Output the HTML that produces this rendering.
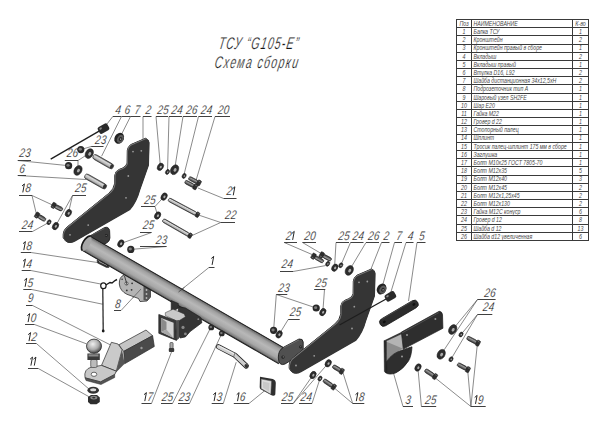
<!DOCTYPE html><html><head><meta charset="utf-8"><style>html,body{margin:0;padding:0;background:#fff;width:600px;height:424px;overflow:hidden}svg{display:block}text{font-family:"Liberation Sans",sans-serif;font-style:italic}</style></head><body>
<svg width="600" height="424" viewBox="0 0 600 424">
<defs>
<linearGradient id="beam" gradientUnits="userSpaceOnUse" x1="0" y1="0" x2="-8.5" y2="14.7">
<stop offset="0" stop-color="#3a3a3a"/><stop offset="0.08" stop-color="#7a7a7a"/><stop offset="0.4" stop-color="#b4b4b4"/><stop offset="0.75" stop-color="#8c8c8c"/><stop offset="0.95" stop-color="#4a4a4a"/><stop offset="1" stop-color="#2a2a2a"/>
</linearGradient>
<linearGradient id="pin" x1="0" y1="0" x2="0" y2="1">
<stop offset="0" stop-color="#4a4a4a"/><stop offset="0.3" stop-color="#dadada"/><stop offset="0.7" stop-color="#b4b4b4"/><stop offset="1" stop-color="#4a4a4a"/>
</linearGradient>
<linearGradient id="bolt" x1="0" y1="0" x2="0" y2="1">
<stop offset="0" stop-color="#2e2e2e"/><stop offset="0.35" stop-color="#9a9a9a"/><stop offset="0.65" stop-color="#6a6a6a"/><stop offset="1" stop-color="#2e2e2e"/>
</linearGradient>
</defs>
<g stroke="#3a3a3a" stroke-width="1" fill="none">
<rect x="456.5" y="19.5" width="132.0" height="221.0"/>
<path d="M471.5 19.5V240.5M572.5 19.5V240.5"/>
<path d="M456.5 27.5H588.5"/>
<path d="M456.5 35.5H588.5"/>
<path d="M456.5 44.5H588.5"/>
<path d="M456.5 52.5H588.5"/>
<path d="M456.5 60.5H588.5"/>
<path d="M456.5 68.5H588.5"/>
<path d="M456.5 76.5H588.5"/>
<path d="M456.5 84.5H588.5"/>
<path d="M456.5 93.5H588.5"/>
<path d="M456.5 101.5H588.5"/>
<path d="M456.5 109.5H588.5"/>
<path d="M456.5 117.5H588.5"/>
<path d="M456.5 125.5H588.5"/>
<path d="M456.5 134.5H588.5"/>
<path d="M456.5 142.5H588.5"/>
<path d="M456.5 150.5H588.5"/>
<path d="M456.5 158.5H588.5"/>
<path d="M456.5 166.5H588.5"/>
<path d="M456.5 175.5H588.5"/>
<path d="M456.5 183.5H588.5"/>
<path d="M456.5 191.5H588.5"/>
<path d="M456.5 199.5H588.5"/>
<path d="M456.5 207.5H588.5"/>
<path d="M456.5 215.5H588.5"/>
<path d="M456.5 224.5H588.5"/>
<path d="M456.5 232.5H588.5"/>
</g>
<g fill="#555">
<text transform="translate(464.0,25.885185185185183) scale(0.72,1)" font-size="7.4" fill="#484848" text-anchor="middle" font-weight="normal" >Поз</text>
<text transform="translate(473.5,25.885185185185183) scale(0.705,1)" font-size="7.4" fill="#484848" text-anchor="start" font-weight="normal" >НАИМЕНОВАНИЕ</text>
<text transform="translate(580.5,25.885185185185183) scale(0.72,1)" font-size="7.4" fill="#484848" text-anchor="middle" font-weight="normal" >К-во</text>
<text transform="translate(464.0,34.07037037037037) scale(0.72,1)" font-size="7.4" fill="#484848" text-anchor="middle" font-weight="normal" >1</text>
<text transform="translate(473.5,34.07037037037037) scale(0.705,1)" font-size="7.4" fill="#484848" text-anchor="start" font-weight="normal" >Балка ТСУ</text>
<text transform="translate(580.5,34.07037037037037) scale(0.72,1)" font-size="7.4" fill="#484848" text-anchor="middle" font-weight="normal" >1</text>
<text transform="translate(464.0,42.25555555555556) scale(0.72,1)" font-size="7.4" fill="#484848" text-anchor="middle" font-weight="normal" >2</text>
<text transform="translate(473.5,42.25555555555556) scale(0.705,1)" font-size="7.4" fill="#484848" text-anchor="start" font-weight="normal" >Кронштейн</text>
<text transform="translate(580.5,42.25555555555556) scale(0.72,1)" font-size="7.4" fill="#484848" text-anchor="middle" font-weight="normal" >2</text>
<text transform="translate(464.0,50.44074074074074) scale(0.72,1)" font-size="7.4" fill="#484848" text-anchor="middle" font-weight="normal" >3</text>
<text transform="translate(473.5,50.44074074074074) scale(0.705,1)" font-size="7.4" fill="#484848" text-anchor="start" font-weight="normal" >Кронштейн правый в сборе</text>
<text transform="translate(580.5,50.44074074074074) scale(0.72,1)" font-size="7.4" fill="#484848" text-anchor="middle" font-weight="normal" >1</text>
<text transform="translate(464.0,58.62592592592593) scale(0.72,1)" font-size="7.4" fill="#484848" text-anchor="middle" font-weight="normal" >4</text>
<text transform="translate(473.5,58.62592592592593) scale(0.705,1)" font-size="7.4" fill="#484848" text-anchor="start" font-weight="normal" >Вкладыш</text>
<text transform="translate(580.5,58.62592592592593) scale(0.72,1)" font-size="7.4" fill="#484848" text-anchor="middle" font-weight="normal" >2</text>
<text transform="translate(464.0,66.81111111111112) scale(0.72,1)" font-size="7.4" fill="#484848" text-anchor="middle" font-weight="normal" >5</text>
<text transform="translate(473.5,66.81111111111112) scale(0.705,1)" font-size="7.4" fill="#484848" text-anchor="start" font-weight="normal" >Вкладыш правый</text>
<text transform="translate(580.5,66.81111111111112) scale(0.72,1)" font-size="7.4" fill="#484848" text-anchor="middle" font-weight="normal" >1</text>
<text transform="translate(464.0,74.99629629629631) scale(0.72,1)" font-size="7.4" fill="#484848" text-anchor="middle" font-weight="normal" >6</text>
<text transform="translate(473.5,74.99629629629631) scale(0.705,1)" font-size="7.4" fill="#484848" text-anchor="start" font-weight="normal" >Втулка D16, L92</text>
<text transform="translate(580.5,74.99629629629631) scale(0.72,1)" font-size="7.4" fill="#484848" text-anchor="middle" font-weight="normal" >2</text>
<text transform="translate(464.0,83.18148148148148) scale(0.72,1)" font-size="7.4" fill="#484848" text-anchor="middle" font-weight="normal" >7</text>
<text transform="translate(473.5,83.18148148148148) scale(0.705,1)" font-size="7.4" fill="#484848" text-anchor="start" font-weight="normal" >Шайба дистанционная 34х12,5хН</text>
<text transform="translate(580.5,83.18148148148148) scale(0.72,1)" font-size="7.4" fill="#484848" text-anchor="middle" font-weight="normal" >2</text>
<text transform="translate(464.0,91.36666666666667) scale(0.72,1)" font-size="7.4" fill="#484848" text-anchor="middle" font-weight="normal" >8</text>
<text transform="translate(473.5,91.36666666666667) scale(0.705,1)" font-size="7.4" fill="#484848" text-anchor="start" font-weight="normal" >Подрозеточник тип А</text>
<text transform="translate(580.5,91.36666666666667) scale(0.72,1)" font-size="7.4" fill="#484848" text-anchor="middle" font-weight="normal" >1</text>
<text transform="translate(464.0,99.55185185185185) scale(0.72,1)" font-size="7.4" fill="#484848" text-anchor="middle" font-weight="normal" >9</text>
<text transform="translate(473.5,99.55185185185185) scale(0.705,1)" font-size="7.4" fill="#484848" text-anchor="start" font-weight="normal" >Шаровый узел SH2FE</text>
<text transform="translate(580.5,99.55185185185185) scale(0.72,1)" font-size="7.4" fill="#484848" text-anchor="middle" font-weight="normal" >1</text>
<text transform="translate(464.0,107.73703703703704) scale(0.72,1)" font-size="7.4" fill="#484848" text-anchor="middle" font-weight="normal" >10</text>
<text transform="translate(473.5,107.73703703703704) scale(0.705,1)" font-size="7.4" fill="#484848" text-anchor="start" font-weight="normal" >Шар E20</text>
<text transform="translate(580.5,107.73703703703704) scale(0.72,1)" font-size="7.4" fill="#484848" text-anchor="middle" font-weight="normal" >1</text>
<text transform="translate(464.0,115.92222222222223) scale(0.72,1)" font-size="7.4" fill="#484848" text-anchor="middle" font-weight="normal" >11</text>
<text transform="translate(473.5,115.92222222222223) scale(0.705,1)" font-size="7.4" fill="#484848" text-anchor="start" font-weight="normal" >Гайка М22</text>
<text transform="translate(580.5,115.92222222222223) scale(0.72,1)" font-size="7.4" fill="#484848" text-anchor="middle" font-weight="normal" >1</text>
<text transform="translate(464.0,124.10740740740741) scale(0.72,1)" font-size="7.4" fill="#484848" text-anchor="middle" font-weight="normal" >12</text>
<text transform="translate(473.5,124.10740740740741) scale(0.705,1)" font-size="7.4" fill="#484848" text-anchor="start" font-weight="normal" >Гровер d 22</text>
<text transform="translate(580.5,124.10740740740741) scale(0.72,1)" font-size="7.4" fill="#484848" text-anchor="middle" font-weight="normal" >1</text>
<text transform="translate(464.0,132.2925925925926) scale(0.72,1)" font-size="7.4" fill="#484848" text-anchor="middle" font-weight="normal" >13</text>
<text transform="translate(473.5,132.2925925925926) scale(0.705,1)" font-size="7.4" fill="#484848" text-anchor="start" font-weight="normal" >Стопорный палец</text>
<text transform="translate(580.5,132.2925925925926) scale(0.72,1)" font-size="7.4" fill="#484848" text-anchor="middle" font-weight="normal" >1</text>
<text transform="translate(464.0,140.47777777777776) scale(0.72,1)" font-size="7.4" fill="#484848" text-anchor="middle" font-weight="normal" >14</text>
<text transform="translate(473.5,140.47777777777776) scale(0.705,1)" font-size="7.4" fill="#484848" text-anchor="start" font-weight="normal" >Шплинт</text>
<text transform="translate(580.5,140.47777777777776) scale(0.72,1)" font-size="7.4" fill="#484848" text-anchor="middle" font-weight="normal" >1</text>
<text transform="translate(464.0,148.66296296296295) scale(0.72,1)" font-size="7.4" fill="#484848" text-anchor="middle" font-weight="normal" >15</text>
<text transform="translate(473.5,148.66296296296295) scale(0.705,1)" font-size="7.4" fill="#484848" text-anchor="start" font-weight="normal" >Тросик палец-шплинт 175 мм в сборе</text>
<text transform="translate(580.5,148.66296296296295) scale(0.72,1)" font-size="7.4" fill="#484848" text-anchor="middle" font-weight="normal" >1</text>
<text transform="translate(464.0,156.84814814814814) scale(0.72,1)" font-size="7.4" fill="#484848" text-anchor="middle" font-weight="normal" >16</text>
<text transform="translate(473.5,156.84814814814814) scale(0.705,1)" font-size="7.4" fill="#484848" text-anchor="start" font-weight="normal" >Заглушка</text>
<text transform="translate(580.5,156.84814814814814) scale(0.72,1)" font-size="7.4" fill="#484848" text-anchor="middle" font-weight="normal" >1</text>
<text transform="translate(464.0,165.03333333333333) scale(0.72,1)" font-size="7.4" fill="#484848" text-anchor="middle" font-weight="normal" >17</text>
<text transform="translate(473.5,165.03333333333333) scale(0.705,1)" font-size="7.4" fill="#484848" text-anchor="start" font-weight="normal" >Болт М10х25 ГОСТ 7805-70</text>
<text transform="translate(580.5,165.03333333333333) scale(0.72,1)" font-size="7.4" fill="#484848" text-anchor="middle" font-weight="normal" >1</text>
<text transform="translate(464.0,173.2185185185185) scale(0.72,1)" font-size="7.4" fill="#484848" text-anchor="middle" font-weight="normal" >18</text>
<text transform="translate(473.5,173.2185185185185) scale(0.705,1)" font-size="7.4" fill="#484848" text-anchor="start" font-weight="normal" >Болт М12х35</text>
<text transform="translate(580.5,173.2185185185185) scale(0.72,1)" font-size="7.4" fill="#484848" text-anchor="middle" font-weight="normal" >5</text>
<text transform="translate(464.0,181.40370370370368) scale(0.72,1)" font-size="7.4" fill="#484848" text-anchor="middle" font-weight="normal" >19</text>
<text transform="translate(473.5,181.40370370370368) scale(0.705,1)" font-size="7.4" fill="#484848" text-anchor="start" font-weight="normal" >Болт М12х40</text>
<text transform="translate(580.5,181.40370370370368) scale(0.72,1)" font-size="7.4" fill="#484848" text-anchor="middle" font-weight="normal" >3</text>
<text transform="translate(464.0,189.58888888888887) scale(0.72,1)" font-size="7.4" fill="#484848" text-anchor="middle" font-weight="normal" >20</text>
<text transform="translate(473.5,189.58888888888887) scale(0.705,1)" font-size="7.4" fill="#484848" text-anchor="start" font-weight="normal" >Болт М12х45</text>
<text transform="translate(580.5,189.58888888888887) scale(0.72,1)" font-size="7.4" fill="#484848" text-anchor="middle" font-weight="normal" >2</text>
<text transform="translate(464.0,197.77407407407406) scale(0.72,1)" font-size="7.4" fill="#484848" text-anchor="middle" font-weight="normal" >21</text>
<text transform="translate(473.5,197.77407407407406) scale(0.705,1)" font-size="7.4" fill="#484848" text-anchor="start" font-weight="normal" >Болт М12х1,25х45</text>
<text transform="translate(580.5,197.77407407407406) scale(0.72,1)" font-size="7.4" fill="#484848" text-anchor="middle" font-weight="normal" >2</text>
<text transform="translate(464.0,205.95925925925926) scale(0.72,1)" font-size="7.4" fill="#484848" text-anchor="middle" font-weight="normal" >22</text>
<text transform="translate(473.5,205.95925925925926) scale(0.705,1)" font-size="7.4" fill="#484848" text-anchor="start" font-weight="normal" >Болт М12х130</text>
<text transform="translate(580.5,205.95925925925926) scale(0.72,1)" font-size="7.4" fill="#484848" text-anchor="middle" font-weight="normal" >2</text>
<text transform="translate(464.0,214.14444444444445) scale(0.72,1)" font-size="7.4" fill="#484848" text-anchor="middle" font-weight="normal" >23</text>
<text transform="translate(473.5,214.14444444444445) scale(0.705,1)" font-size="7.4" fill="#484848" text-anchor="start" font-weight="normal" >Гайка М12С конуср</text>
<text transform="translate(580.5,214.14444444444445) scale(0.72,1)" font-size="7.4" fill="#484848" text-anchor="middle" font-weight="normal" >6</text>
<text transform="translate(464.0,222.3296296296296) scale(0.72,1)" font-size="7.4" fill="#484848" text-anchor="middle" font-weight="normal" >24</text>
<text transform="translate(473.5,222.3296296296296) scale(0.705,1)" font-size="7.4" fill="#484848" text-anchor="start" font-weight="normal" >Гровер d 12</text>
<text transform="translate(580.5,222.3296296296296) scale(0.72,1)" font-size="7.4" fill="#484848" text-anchor="middle" font-weight="normal" >8</text>
<text transform="translate(464.0,230.5148148148148) scale(0.72,1)" font-size="7.4" fill="#484848" text-anchor="middle" font-weight="normal" >25</text>
<text transform="translate(473.5,230.5148148148148) scale(0.705,1)" font-size="7.4" fill="#484848" text-anchor="start" font-weight="normal" >Шайба d 12</text>
<text transform="translate(580.5,230.5148148148148) scale(0.72,1)" font-size="7.4" fill="#484848" text-anchor="middle" font-weight="normal" >13</text>
<text transform="translate(464.0,238.7) scale(0.72,1)" font-size="7.4" fill="#484848" text-anchor="middle" font-weight="normal" >26</text>
<text transform="translate(473.5,238.7) scale(0.705,1)" font-size="7.4" fill="#484848" text-anchor="start" font-weight="normal" >Шайба d12 увеличенная</text>
<text transform="translate(580.5,238.7) scale(0.72,1)" font-size="7.4" fill="#484848" text-anchor="middle" font-weight="normal" >6</text>
</g>
<text transform="translate(218,48.5) skewX(-10) scale(0.62,1)" font-size="17" fill="#151515" stroke="#fff" stroke-width="0.25" letter-spacing="1.9">ТСУ “G105-E”</text>
<text transform="translate(214,68.3) skewX(-10) scale(0.62,1)" font-size="17" fill="#151515" stroke="#fff" stroke-width="0.25" letter-spacing="2.2">Схема сборки</text>
<defs><g id="brk"><path d="M145.5 138.3 Q148.8 139.3 148.8 142.5 L148.3 164.5 L139.5 189.5 Q136.3 201.5 129.5 209.3 L74.5 240.8 Q66.5 245 63.2 237.5 Q62.5 230 68 226.3 L108.5 193.6 Q114 189.2 114.8 183.2 L114.8 175.3 Q115.2 171 119.5 169.3 Q125.5 167.5 127.1 163.2 L127.3 150.5 Q127.8 146.3 131 144.5 Z" fill="#2a2a2a" stroke="#1c1c1c" stroke-width="1"/><path d="M145.5 138.3 Q148.8 139.3 148.8 142.5 L148.3 164.5 L139.5 189.5 Q136.3 201.5 129.5 209.3 L74.5 240.8 Q66.5 245 63.2 237.5 Q62.5 230 68 226.3 L108.5 193.6 Q114 189.2 114.8 183.2 L114.8 175.3 Q115.2 171 119.5 169.3 Q125.5 167.5 127.1 163.2 L127.3 150.5 Q127.8 146.3 131 144.5 Z" fill="#7a7a7a"/><path d="M145.5 138.3 Q148.8 139.3 148.8 142.5 L148.3 164.5 L139.5 189.5 Q136.3 201.5 129.5 209.3 L74.5 240.8 Q66.5 245 63.2 237.5 Q62.5 230 68 226.3 L108.5 193.6 Q114 189.2 114.8 183.2 L114.8 175.3 Q115.2 171 119.5 169.3 Q125.5 167.5 127.1 163.2 L127.3 150.5 Q127.8 146.3 131 144.5 Z" transform="translate(0.7,0.75)" fill="#353535"/><g fill="#9a9a9a"><circle cx="133" cy="151.6" r="0.9"/><circle cx="141.3" cy="150.8" r="0.9"/><circle cx="128.3" cy="176" r="0.9"/><circle cx="126" cy="197.8" r="0.9"/><circle cx="88.2" cy="225.1" r="0.9"/><circle cx="70" cy="234.8" r="0.9"/></g></g></defs>
<text transform="translate(115.00,113.8) skewX(-7) scale(0.8,1)" font-size="12.4" fill="#1a1a1a" stroke="#fff" stroke-width="0.18">4</text>
<path d="M112.8 116.5 L121.0 116.5" stroke="#2a2a2a" stroke-width="0.9" fill="none"/>
<path d="M112.8 116.5 L103.5 128.5" stroke="#3c3c3c" stroke-width="0.6" fill="none"/>
<text transform="translate(124.30,113.8) skewX(-7) scale(0.8,1)" font-size="12.4" fill="#1a1a1a" stroke="#fff" stroke-width="0.18">6</text>
<path d="M121.5 116.5 L130.5 116.5" stroke="#2a2a2a" stroke-width="0.9" fill="none"/>
<path d="M121.5 116.5 L101.6 156.2" stroke="#3c3c3c" stroke-width="0.6" fill="none"/>
<text transform="translate(134.30,113.8) skewX(-7) scale(0.8,1)" font-size="12.4" fill="#1a1a1a" stroke="#fff" stroke-width="0.18">7</text>
<path d="M130.5 116.5 L140.5 116.5" stroke="#2a2a2a" stroke-width="0.9" fill="none"/>
<path d="M130.5 116.5 L119.5 138.3" stroke="#3c3c3c" stroke-width="0.6" fill="none"/>
<text transform="translate(145.30,113.8) skewX(-7) scale(0.8,1)" font-size="12.4" fill="#1a1a1a" stroke="#fff" stroke-width="0.18">2</text>
<path d="M143.0 116.5 L151.5 116.5" stroke="#2a2a2a" stroke-width="0.9" fill="none"/>
<path d="M143.0 116.5 L143.0 139.0" stroke="#3c3c3c" stroke-width="0.6" fill="none"/>
<text transform="translate(157.00,113.8) skewX(-7) scale(0.8,1)" font-size="12.4" fill="#1a1a1a" stroke="#fff" stroke-width="0.18">2</text>
<text transform="translate(162.75,113.8) skewX(-7) scale(0.8,1)" font-size="12.4" fill="#1a1a1a" stroke="#fff" stroke-width="0.18">5</text>
<path d="M156.0 116.5 L168.0 116.5" stroke="#2a2a2a" stroke-width="0.9" fill="none"/>
<path d="M156.0 116.5 L160.4 166.5" stroke="#3c3c3c" stroke-width="0.6" fill="none"/>
<text transform="translate(171.00,113.8) skewX(-7) scale(0.8,1)" font-size="12.4" fill="#1a1a1a" stroke="#fff" stroke-width="0.18">2</text>
<text transform="translate(176.75,113.8) skewX(-7) scale(0.8,1)" font-size="12.4" fill="#1a1a1a" stroke="#fff" stroke-width="0.18">4</text>
<path d="M169.0 116.5 L182.0 116.5" stroke="#2a2a2a" stroke-width="0.9" fill="none"/>
<path d="M169.0 116.5 L167.5 171.5" stroke="#3c3c3c" stroke-width="0.6" fill="none"/>
<text transform="translate(185.70,113.8) skewX(-7) scale(0.8,1)" font-size="12.4" fill="#1a1a1a" stroke="#fff" stroke-width="0.18">2</text>
<text transform="translate(191.45,113.8) skewX(-7) scale(0.8,1)" font-size="12.4" fill="#1a1a1a" stroke="#fff" stroke-width="0.18">6</text>
<path d="M183.0 116.5 L197.0 116.5" stroke="#2a2a2a" stroke-width="0.9" fill="none"/>
<path d="M183.0 116.5 L174.6 169.5" stroke="#3c3c3c" stroke-width="0.6" fill="none"/>
<text transform="translate(200.60,113.8) skewX(-7) scale(0.8,1)" font-size="12.4" fill="#1a1a1a" stroke="#fff" stroke-width="0.18">2</text>
<text transform="translate(206.35,113.8) skewX(-7) scale(0.8,1)" font-size="12.4" fill="#1a1a1a" stroke="#fff" stroke-width="0.18">4</text>
<path d="M198.5 116.5 L212.0 116.5" stroke="#2a2a2a" stroke-width="0.9" fill="none"/>
<path d="M198.5 116.5 L183.9 175.0" stroke="#3c3c3c" stroke-width="0.6" fill="none"/>
<text transform="translate(217.60,113.8) skewX(-7) scale(0.8,1)" font-size="12.4" fill="#1a1a1a" stroke="#fff" stroke-width="0.18">2</text>
<text transform="translate(223.35,113.8) skewX(-7) scale(0.8,1)" font-size="12.4" fill="#1a1a1a" stroke="#fff" stroke-width="0.18">0</text>
<path d="M215.0 116.5 L230.0 116.5" stroke="#2a2a2a" stroke-width="0.9" fill="none"/>
<path d="M215.0 116.5 L196.0 180.5" stroke="#3c3c3c" stroke-width="0.6" fill="none"/>
<text transform="translate(19.00,157.3) skewX(-7) scale(0.8,1)" font-size="12.4" fill="#1a1a1a" stroke="#fff" stroke-width="0.18">2</text>
<text transform="translate(24.75,157.3) skewX(-7) scale(0.8,1)" font-size="12.4" fill="#1a1a1a" stroke="#fff" stroke-width="0.18">3</text>
<path d="M17.8 160.5 L31.0 160.5" stroke="#2a2a2a" stroke-width="0.9" fill="none"/>
<path d="M17.8 160.5 L68.6 165.7" stroke="#3c3c3c" stroke-width="0.6" fill="none"/>
<text transform="translate(66.50,157.3) skewX(-7) scale(0.8,1)" font-size="12.4" fill="#1a1a1a" stroke="#fff" stroke-width="0.18">2</text>
<text transform="translate(72.25,157.3) skewX(-7) scale(0.8,1)" font-size="12.4" fill="#1a1a1a" stroke="#fff" stroke-width="0.18">6</text>
<path d="M64.8 160.5 L78.0 160.5" stroke="#2a2a2a" stroke-width="0.9" fill="none"/>
<path d="M78.0 160.5 L88.4 153.8" stroke="#3c3c3c" stroke-width="0.6" fill="none"/>
<path d="M78.0 160.5 L78.0 170.4" stroke="#3c3c3c" stroke-width="0.6" fill="none"/>
<text transform="translate(94.80,143.8) skewX(-7) scale(0.8,1)" font-size="12.4" fill="#1a1a1a" stroke="#fff" stroke-width="0.18">2</text>
<text transform="translate(100.55,143.8) skewX(-7) scale(0.8,1)" font-size="12.4" fill="#1a1a1a" stroke="#fff" stroke-width="0.18">3</text>
<path d="M91.2 146.5 L103.5 146.5" stroke="#2a2a2a" stroke-width="0.9" fill="none"/>
<path d="M91.2 146.5 L80.8 149.6" stroke="#3c3c3c" stroke-width="0.6" fill="none"/>
<text transform="translate(19.00,172.9) skewX(-7) scale(0.8,1)" font-size="12.4" fill="#1a1a1a" stroke="#fff" stroke-width="0.18">6</text>
<path d="M17.8 175.5 L26.0 175.5" stroke="#2a2a2a" stroke-width="0.9" fill="none"/>
<path d="M17.8 175.5 L86.0 179.5" stroke="#3c3c3c" stroke-width="0.6" fill="none"/>
<path d="M22.00 186.00 L24.40 183.90 L22.80 192.40" stroke="#1a1a1a" stroke-width="0.95" fill="none" stroke-linejoin="round"/>
<text transform="translate(24.90,192.3) skewX(-7) scale(0.8,1)" font-size="12.4" fill="#1a1a1a" stroke="#fff" stroke-width="0.18">8</text>
<path d="M19.0 195.5 L32.0 195.5" stroke="#2a2a2a" stroke-width="0.9" fill="none"/>
<path d="M32.0 195.5 L52.5 205.0" stroke="#3c3c3c" stroke-width="0.6" fill="none"/>
<path d="M32.0 195.5 L36.5 214.5" stroke="#3c3c3c" stroke-width="0.6" fill="none"/>
<text transform="translate(74.70,192.3) skewX(-7) scale(0.8,1)" font-size="12.4" fill="#1a1a1a" stroke="#fff" stroke-width="0.18">2</text>
<text transform="translate(80.45,192.3) skewX(-7) scale(0.8,1)" font-size="12.4" fill="#1a1a1a" stroke="#fff" stroke-width="0.18">5</text>
<path d="M72.5 195.5 L86.0 195.5" stroke="#2a2a2a" stroke-width="0.9" fill="none"/>
<path d="M72.5 195.5 L68.4 213.1" stroke="#3c3c3c" stroke-width="0.6" fill="none"/>
<path d="M72.5 195.5 L55.5 226.1" stroke="#3c3c3c" stroke-width="0.6" fill="none"/>
<text transform="translate(21.50,228.7) skewX(-7) scale(0.8,1)" font-size="12.4" fill="#1a1a1a" stroke="#fff" stroke-width="0.18">2</text>
<text transform="translate(27.25,228.7) skewX(-7) scale(0.8,1)" font-size="12.4" fill="#1a1a1a" stroke="#fff" stroke-width="0.18">4</text>
<path d="M19.0 231.5 L32.5 231.5" stroke="#2a2a2a" stroke-width="0.9" fill="none"/>
<path d="M32.5 231.5 L48.7 222.5" stroke="#3c3c3c" stroke-width="0.6" fill="none"/>
<text transform="translate(226.20,195.2) skewX(-7) scale(0.8,1)" font-size="12.4" fill="#1a1a1a" stroke="#fff" stroke-width="0.18">2</text>
<path d="M232.45 188.90 L234.85 186.80 L233.25 195.30" stroke="#1a1a1a" stroke-width="0.95" fill="none" stroke-linejoin="round"/>
<path d="M223.6 198.5 L236.5 198.5" stroke="#2a2a2a" stroke-width="0.9" fill="none"/>
<path d="M223.6 198.5 L198.0 188.0" stroke="#3c3c3c" stroke-width="0.6" fill="none"/>
<text transform="translate(144.00,203.7) skewX(-7) scale(0.8,1)" font-size="12.4" fill="#1a1a1a" stroke="#fff" stroke-width="0.18">2</text>
<text transform="translate(149.75,203.7) skewX(-7) scale(0.8,1)" font-size="12.4" fill="#1a1a1a" stroke="#fff" stroke-width="0.18">5</text>
<path d="M141.0 206.5 L155.0 206.5" stroke="#2a2a2a" stroke-width="0.9" fill="none"/>
<path d="M155.0 206.5 L164.1 196.6" stroke="#3c3c3c" stroke-width="0.6" fill="none"/>
<path d="M155.0 206.5 L157.6 215.5" stroke="#3c3c3c" stroke-width="0.6" fill="none"/>
<text transform="translate(224.80,219.2) skewX(-7) scale(0.8,1)" font-size="12.4" fill="#1a1a1a" stroke="#fff" stroke-width="0.18">2</text>
<text transform="translate(230.55,219.2) skewX(-7) scale(0.8,1)" font-size="12.4" fill="#1a1a1a" stroke="#fff" stroke-width="0.18">2</text>
<path d="M220.7 222.5 L235.0 222.5" stroke="#2a2a2a" stroke-width="0.9" fill="none"/>
<path d="M220.7 222.5 L198.5 215.0" stroke="#3c3c3c" stroke-width="0.6" fill="none"/>
<path d="M220.7 222.5 L191.0 236.0" stroke="#3c3c3c" stroke-width="0.6" fill="none"/>
<text transform="translate(142.60,229.2) skewX(-7) scale(0.8,1)" font-size="12.4" fill="#1a1a1a" stroke="#fff" stroke-width="0.18">2</text>
<text transform="translate(148.35,229.2) skewX(-7) scale(0.8,1)" font-size="12.4" fill="#1a1a1a" stroke="#fff" stroke-width="0.18">5</text>
<path d="M140.0 232.5 L151.5 232.5" stroke="#2a2a2a" stroke-width="0.9" fill="none"/>
<path d="M151.5 232.5 L120.8 243.5" stroke="#3c3c3c" stroke-width="0.6" fill="none"/>
<text transform="translate(155.40,243.6) skewX(-7) scale(0.8,1)" font-size="12.4" fill="#1a1a1a" stroke="#fff" stroke-width="0.18">2</text>
<text transform="translate(161.15,243.6) skewX(-7) scale(0.8,1)" font-size="12.4" fill="#1a1a1a" stroke="#fff" stroke-width="0.18">3</text>
<path d="M140.0 246.5 L166.5 246.5" stroke="#2a2a2a" stroke-width="0.9" fill="none"/>
<path d="M166.5 246.5 L130.8 249.4" stroke="#3c3c3c" stroke-width="0.6" fill="none"/>
<path d="M23.00 243.70 L25.40 241.60 L23.80 250.10" stroke="#1a1a1a" stroke-width="0.95" fill="none" stroke-linejoin="round"/>
<text transform="translate(25.90,250.0) skewX(-7) scale(0.8,1)" font-size="12.4" fill="#1a1a1a" stroke="#fff" stroke-width="0.18">8</text>
<path d="M20.8 252.5 L31.0 252.5" stroke="#2a2a2a" stroke-width="0.9" fill="none"/>
<path d="M31.0 252.5 L97.5 262.5" stroke="#3c3c3c" stroke-width="0.6" fill="none"/>
<path d="M23.00 261.20 L25.40 259.10 L23.80 267.60" stroke="#1a1a1a" stroke-width="0.95" fill="none" stroke-linejoin="round"/>
<text transform="translate(25.90,267.5) skewX(-7) scale(0.8,1)" font-size="12.4" fill="#1a1a1a" stroke="#fff" stroke-width="0.18">4</text>
<path d="M21.7 270.5 L30.8 270.5" stroke="#2a2a2a" stroke-width="0.9" fill="none"/>
<path d="M30.8 270.5 L101.7 284.2" stroke="#3c3c3c" stroke-width="0.6" fill="none"/>
<path d="M24.30 280.40 L26.70 278.30 L25.10 286.80" stroke="#1a1a1a" stroke-width="0.95" fill="none" stroke-linejoin="round"/>
<text transform="translate(27.20,286.7) skewX(-7) scale(0.8,1)" font-size="12.4" fill="#1a1a1a" stroke="#fff" stroke-width="0.18">5</text>
<path d="M23.3 289.5 L31.7 289.5" stroke="#2a2a2a" stroke-width="0.9" fill="none"/>
<path d="M31.7 289.5 L102.5 304.2" stroke="#3c3c3c" stroke-width="0.6" fill="none"/>
<text transform="translate(27.50,302.3) skewX(-7) scale(0.8,1)" font-size="12.4" fill="#1a1a1a" stroke="#fff" stroke-width="0.18">9</text>
<path d="M26.0 305.5 L32.6 305.5" stroke="#2a2a2a" stroke-width="0.9" fill="none"/>
<path d="M32.6 305.5 L110.0 344.7" stroke="#3c3c3c" stroke-width="0.6" fill="none"/>
<path d="M27.30 315.70 L29.70 313.60 L28.10 322.10" stroke="#1a1a1a" stroke-width="0.95" fill="none" stroke-linejoin="round"/>
<text transform="translate(30.20,322.0) skewX(-7) scale(0.8,1)" font-size="12.4" fill="#1a1a1a" stroke="#fff" stroke-width="0.18">0</text>
<path d="M25.0 324.5 L34.5 324.5" stroke="#2a2a2a" stroke-width="0.9" fill="none"/>
<path d="M34.5 324.5 L86.4 343.8" stroke="#3c3c3c" stroke-width="0.6" fill="none"/>
<path d="M28.20 334.70 L30.60 332.60 L29.00 341.10" stroke="#1a1a1a" stroke-width="0.95" fill="none" stroke-linejoin="round"/>
<text transform="translate(31.10,341.0) skewX(-7) scale(0.8,1)" font-size="12.4" fill="#1a1a1a" stroke="#fff" stroke-width="0.18">2</text>
<path d="M26.0 343.5 L36.4 343.5" stroke="#2a2a2a" stroke-width="0.9" fill="none"/>
<path d="M36.4 343.5 L89.5 389.5" stroke="#3c3c3c" stroke-width="0.6" fill="none"/>
<path d="M30.10 359.20 L32.50 357.10 L30.90 365.60" stroke="#1a1a1a" stroke-width="0.95" fill="none" stroke-linejoin="round"/>
<path d="M33.50 359.20 L35.90 357.10 L34.30 365.60" stroke="#1a1a1a" stroke-width="0.95" fill="none" stroke-linejoin="round"/>
<path d="M28.0 368.5 L38.3 368.5" stroke="#2a2a2a" stroke-width="0.9" fill="none"/>
<path d="M38.3 368.5 L89.5 397.0" stroke="#3c3c3c" stroke-width="0.6" fill="none"/>
<text transform="translate(114.80,307.5) skewX(-7) scale(0.8,1)" font-size="12.4" fill="#1a1a1a" stroke="#fff" stroke-width="0.18">8</text>
<path d="M114.0 310.5 L121.0 310.5" stroke="#2a2a2a" stroke-width="0.9" fill="none"/>
<path d="M121.0 310.5 L141.0 289.0" stroke="#3c3c3c" stroke-width="0.6" fill="none"/>
<path d="M211.30 258.50 L213.70 256.40 L212.10 264.90" stroke="#1a1a1a" stroke-width="0.95" fill="none" stroke-linejoin="round"/>
<path d="M208.9 267.5 L214.5 267.5" stroke="#2a2a2a" stroke-width="0.9" fill="none"/>
<path d="M208.9 267.5 L178.5 292.0" stroke="#3c3c3c" stroke-width="0.6" fill="none"/>
<text transform="translate(285.60,239.8) skewX(-7) scale(0.8,1)" font-size="12.4" fill="#1a1a1a" stroke="#fff" stroke-width="0.18">2</text>
<path d="M291.85 233.50 L294.25 231.40 L292.65 239.90" stroke="#1a1a1a" stroke-width="0.95" fill="none" stroke-linejoin="round"/>
<path d="M284.2 242.5 L297.0 242.5" stroke="#2a2a2a" stroke-width="0.9" fill="none"/>
<path d="M284.2 242.5 L312.0 254.5" stroke="#3c3c3c" stroke-width="0.6" fill="none"/>
<text transform="translate(304.00,239.8) skewX(-7) scale(0.8,1)" font-size="12.4" fill="#1a1a1a" stroke="#fff" stroke-width="0.18">2</text>
<text transform="translate(309.75,239.8) skewX(-7) scale(0.8,1)" font-size="12.4" fill="#1a1a1a" stroke="#fff" stroke-width="0.18">0</text>
<path d="M302.5 242.5 L316.0 242.5" stroke="#2a2a2a" stroke-width="0.9" fill="none"/>
<path d="M302.5 242.5 L322.0 254.0" stroke="#3c3c3c" stroke-width="0.6" fill="none"/>
<text transform="translate(338.00,239.8) skewX(-7) scale(0.8,1)" font-size="12.4" fill="#1a1a1a" stroke="#fff" stroke-width="0.18">2</text>
<text transform="translate(343.75,239.8) skewX(-7) scale(0.8,1)" font-size="12.4" fill="#1a1a1a" stroke="#fff" stroke-width="0.18">5</text>
<path d="M336.0 242.5 L349.0 242.5" stroke="#2a2a2a" stroke-width="0.9" fill="none"/>
<path d="M336.0 242.5 L334.6 266.7" stroke="#3c3c3c" stroke-width="0.6" fill="none"/>
<text transform="translate(352.20,239.8) skewX(-7) scale(0.8,1)" font-size="12.4" fill="#1a1a1a" stroke="#fff" stroke-width="0.18">2</text>
<text transform="translate(357.95,239.8) skewX(-7) scale(0.8,1)" font-size="12.4" fill="#1a1a1a" stroke="#fff" stroke-width="0.18">4</text>
<path d="M350.5 242.5 L363.5 242.5" stroke="#2a2a2a" stroke-width="0.9" fill="none"/>
<path d="M350.5 242.5 L340.8 265.3" stroke="#3c3c3c" stroke-width="0.6" fill="none"/>
<text transform="translate(367.70,239.8) skewX(-7) scale(0.8,1)" font-size="12.4" fill="#1a1a1a" stroke="#fff" stroke-width="0.18">2</text>
<text transform="translate(373.45,239.8) skewX(-7) scale(0.8,1)" font-size="12.4" fill="#1a1a1a" stroke="#fff" stroke-width="0.18">6</text>
<path d="M366.0 242.5 L379.0 242.5" stroke="#2a2a2a" stroke-width="0.9" fill="none"/>
<path d="M366.0 242.5 L349.3 270.4" stroke="#3c3c3c" stroke-width="0.6" fill="none"/>
<text transform="translate(383.30,239.8) skewX(-7) scale(0.8,1)" font-size="12.4" fill="#1a1a1a" stroke="#fff" stroke-width="0.18">2</text>
<path d="M381.5 242.5 L389.5 242.5" stroke="#2a2a2a" stroke-width="0.9" fill="none"/>
<path d="M381.5 242.5 L371.0 269.0" stroke="#3c3c3c" stroke-width="0.6" fill="none"/>
<text transform="translate(396.00,239.8) skewX(-7) scale(0.8,1)" font-size="12.4" fill="#1a1a1a" stroke="#fff" stroke-width="0.18">7</text>
<path d="M394.5 242.5 L402.0 242.5" stroke="#2a2a2a" stroke-width="0.9" fill="none"/>
<path d="M394.5 242.5 L381.9 288.0" stroke="#3c3c3c" stroke-width="0.6" fill="none"/>
<text transform="translate(407.40,239.8) skewX(-7) scale(0.8,1)" font-size="12.4" fill="#1a1a1a" stroke="#fff" stroke-width="0.18">4</text>
<path d="M406.0 242.5 L413.5 242.5" stroke="#2a2a2a" stroke-width="0.9" fill="none"/>
<path d="M406.0 242.5 L390.4 293.7" stroke="#3c3c3c" stroke-width="0.6" fill="none"/>
<text transform="translate(418.70,239.8) skewX(-7) scale(0.8,1)" font-size="12.4" fill="#1a1a1a" stroke="#fff" stroke-width="0.18">5</text>
<path d="M417.0 242.5 L425.5 242.5" stroke="#2a2a2a" stroke-width="0.9" fill="none"/>
<path d="M417.0 242.5 L408.5 301.0" stroke="#3c3c3c" stroke-width="0.6" fill="none"/>
<text transform="translate(281.30,268.2) skewX(-7) scale(0.8,1)" font-size="12.4" fill="#1a1a1a" stroke="#fff" stroke-width="0.18">2</text>
<text transform="translate(287.05,268.2) skewX(-7) scale(0.8,1)" font-size="12.4" fill="#1a1a1a" stroke="#fff" stroke-width="0.18">4</text>
<path d="M280.0 271.5 L293.0 271.5" stroke="#2a2a2a" stroke-width="0.9" fill="none"/>
<path d="M293.0 271.5 L325.5 265.6" stroke="#3c3c3c" stroke-width="0.6" fill="none"/>
<text transform="translate(278.00,291.5) skewX(-7) scale(0.8,1)" font-size="12.4" fill="#1a1a1a" stroke="#fff" stroke-width="0.18">2</text>
<text transform="translate(283.75,291.5) skewX(-7) scale(0.8,1)" font-size="12.4" fill="#1a1a1a" stroke="#fff" stroke-width="0.18">3</text>
<path d="M276.3 294.5 L287.3 294.5" stroke="#2a2a2a" stroke-width="0.9" fill="none"/>
<path d="M276.3 294.5 L273.6 330.3" stroke="#3c3c3c" stroke-width="0.6" fill="none"/>
<path d="M276.3 294.5 L316.2 308.0" stroke="#3c3c3c" stroke-width="0.6" fill="none"/>
<text transform="translate(315.20,286.5) skewX(-7) scale(0.8,1)" font-size="12.4" fill="#1a1a1a" stroke="#fff" stroke-width="0.18">2</text>
<text transform="translate(320.95,286.5) skewX(-7) scale(0.8,1)" font-size="12.4" fill="#1a1a1a" stroke="#fff" stroke-width="0.18">5</text>
<path d="M314.2 289.5 L325.3 289.5" stroke="#2a2a2a" stroke-width="0.9" fill="none"/>
<path d="M324.5 289.5 L322.8 312.1" stroke="#3c3c3c" stroke-width="0.6" fill="none"/>
<text transform="translate(289.60,316.2) skewX(-7) scale(0.8,1)" font-size="12.4" fill="#1a1a1a" stroke="#fff" stroke-width="0.18">2</text>
<text transform="translate(295.35,316.2) skewX(-7) scale(0.8,1)" font-size="12.4" fill="#1a1a1a" stroke="#fff" stroke-width="0.18">5</text>
<path d="M288.2 319.5 L299.7 319.5" stroke="#2a2a2a" stroke-width="0.9" fill="none"/>
<path d="M288.2 319.5 L279.1 334.4" stroke="#3c3c3c" stroke-width="0.6" fill="none"/>
<path d="M144.00 394.70 L146.40 392.60 L144.80 401.10" stroke="#1a1a1a" stroke-width="0.95" fill="none" stroke-linejoin="round"/>
<text transform="translate(146.90,401.0) skewX(-7) scale(0.8,1)" font-size="12.4" fill="#1a1a1a" stroke="#fff" stroke-width="0.18">7</text>
<path d="M141.5 403.5 L151.5 403.5" stroke="#2a2a2a" stroke-width="0.9" fill="none"/>
<path d="M151.5 403.5 L171.5 352.0" stroke="#3c3c3c" stroke-width="0.6" fill="none"/>
<text transform="translate(161.50,401.0) skewX(-7) scale(0.8,1)" font-size="12.4" fill="#1a1a1a" stroke="#fff" stroke-width="0.18">2</text>
<text transform="translate(167.25,401.0) skewX(-7) scale(0.8,1)" font-size="12.4" fill="#1a1a1a" stroke="#fff" stroke-width="0.18">5</text>
<path d="M161.0 403.5 L172.5 403.5" stroke="#2a2a2a" stroke-width="0.9" fill="none"/>
<path d="M172.5 403.5 L211.0 327.0" stroke="#3c3c3c" stroke-width="0.6" fill="none"/>
<text transform="translate(178.50,401.0) skewX(-7) scale(0.8,1)" font-size="12.4" fill="#1a1a1a" stroke="#fff" stroke-width="0.18">2</text>
<text transform="translate(184.25,401.0) skewX(-7) scale(0.8,1)" font-size="12.4" fill="#1a1a1a" stroke="#fff" stroke-width="0.18">3</text>
<path d="M178.0 403.5 L189.5 403.5" stroke="#2a2a2a" stroke-width="0.9" fill="none"/>
<path d="M189.5 403.5 L222.0 333.0" stroke="#3c3c3c" stroke-width="0.6" fill="none"/>
<path d="M213.30 394.70 L215.70 392.60 L214.10 401.10" stroke="#1a1a1a" stroke-width="0.95" fill="none" stroke-linejoin="round"/>
<text transform="translate(216.20,401.0) skewX(-7) scale(0.8,1)" font-size="12.4" fill="#1a1a1a" stroke="#fff" stroke-width="0.18">3</text>
<path d="M211.7 403.5 L223.3 403.5" stroke="#2a2a2a" stroke-width="0.9" fill="none"/>
<path d="M223.3 403.5 L236.2 362.2" stroke="#3c3c3c" stroke-width="0.6" fill="none"/>
<path d="M236.70 394.70 L239.10 392.60 L237.50 401.10" stroke="#1a1a1a" stroke-width="0.95" fill="none" stroke-linejoin="round"/>
<text transform="translate(239.60,401.0) skewX(-7) scale(0.8,1)" font-size="12.4" fill="#1a1a1a" stroke="#fff" stroke-width="0.18">6</text>
<path d="M233.8 403.5 L249.0 403.5" stroke="#2a2a2a" stroke-width="0.9" fill="none"/>
<path d="M249.0 403.5 L265.3 390.2" stroke="#3c3c3c" stroke-width="0.6" fill="none"/>
<text transform="translate(281.50,401.0) skewX(-7) scale(0.8,1)" font-size="12.4" fill="#1a1a1a" stroke="#fff" stroke-width="0.18">2</text>
<text transform="translate(287.25,401.0) skewX(-7) scale(0.8,1)" font-size="12.4" fill="#1a1a1a" stroke="#fff" stroke-width="0.18">5</text>
<path d="M281.0 403.5 L293.2 403.5" stroke="#2a2a2a" stroke-width="0.9" fill="none"/>
<path d="M293.2 403.5 L328.2 363.3" stroke="#3c3c3c" stroke-width="0.6" fill="none"/>
<path d="M293.2 403.5 L313.0 375.0" stroke="#3c3c3c" stroke-width="0.6" fill="none"/>
<text transform="translate(300.20,401.0) skewX(-7) scale(0.8,1)" font-size="12.4" fill="#1a1a1a" stroke="#fff" stroke-width="0.18">2</text>
<text transform="translate(305.95,401.0) skewX(-7) scale(0.8,1)" font-size="12.4" fill="#1a1a1a" stroke="#fff" stroke-width="0.18">4</text>
<path d="M299.0 403.5 L312.0 403.5" stroke="#2a2a2a" stroke-width="0.9" fill="none"/>
<path d="M312.0 403.5 L320.0 378.5" stroke="#3c3c3c" stroke-width="0.6" fill="none"/>
<path d="M355.50 394.70 L357.90 392.60 L356.30 401.10" stroke="#1a1a1a" stroke-width="0.95" fill="none" stroke-linejoin="round"/>
<text transform="translate(358.40,401.0) skewX(-7) scale(0.8,1)" font-size="12.4" fill="#1a1a1a" stroke="#fff" stroke-width="0.18">8</text>
<path d="M352.7 403.5 L364.3 403.5" stroke="#2a2a2a" stroke-width="0.9" fill="none"/>
<path d="M352.7 403.5 L342.2 370.3" stroke="#3c3c3c" stroke-width="0.6" fill="none"/>
<path d="M352.7 403.5 L332.8 386.7" stroke="#3c3c3c" stroke-width="0.6" fill="none"/>
<text transform="translate(404.90,403.8) skewX(-7) scale(0.8,1)" font-size="12.4" fill="#1a1a1a" stroke="#fff" stroke-width="0.18">3</text>
<path d="M403.0 406.5 L413.0 406.5" stroke="#2a2a2a" stroke-width="0.9" fill="none"/>
<path d="M403.0 406.5 L393.3 372.4" stroke="#3c3c3c" stroke-width="0.6" fill="none"/>
<text transform="translate(424.70,403.8) skewX(-7) scale(0.8,1)" font-size="12.4" fill="#1a1a1a" stroke="#fff" stroke-width="0.18">2</text>
<text transform="translate(430.45,403.8) skewX(-7) scale(0.8,1)" font-size="12.4" fill="#1a1a1a" stroke="#fff" stroke-width="0.18">5</text>
<path d="M421.4 406.5 L436.2 406.5" stroke="#2a2a2a" stroke-width="0.9" fill="none"/>
<path d="M421.4 406.5 L418.0 369.1" stroke="#3c3c3c" stroke-width="0.6" fill="none"/>
<path d="M474.70 397.50 L477.10 395.40 L475.50 403.90" stroke="#1a1a1a" stroke-width="0.95" fill="none" stroke-linejoin="round"/>
<text transform="translate(477.60,403.8) skewX(-7) scale(0.8,1)" font-size="12.4" fill="#1a1a1a" stroke="#fff" stroke-width="0.18">9</text>
<path d="M470.9 406.5 L485.7 406.5" stroke="#2a2a2a" stroke-width="0.9" fill="none"/>
<path d="M470.9 406.5 L477.5 342.7" stroke="#3c3c3c" stroke-width="0.6" fill="none"/>
<path d="M470.9 406.5 L467.6 369.1" stroke="#3c3c3c" stroke-width="0.6" fill="none"/>
<path d="M470.9 406.5 L434.6 377.4" stroke="#3c3c3c" stroke-width="0.6" fill="none"/>
<text transform="translate(484.00,296.5) skewX(-7) scale(0.8,1)" font-size="12.4" fill="#1a1a1a" stroke="#fff" stroke-width="0.18">2</text>
<text transform="translate(489.75,296.5) skewX(-7) scale(0.8,1)" font-size="12.4" fill="#1a1a1a" stroke="#fff" stroke-width="0.18">6</text>
<path d="M477.5 299.5 L495.6 299.5" stroke="#2a2a2a" stroke-width="0.9" fill="none"/>
<path d="M477.5 299.5 L452.7 329.5" stroke="#3c3c3c" stroke-width="0.6" fill="none"/>
<path d="M477.5 299.5 L441.2 354.3" stroke="#3c3c3c" stroke-width="0.6" fill="none"/>
<text transform="translate(482.40,311.4) skewX(-7) scale(0.8,1)" font-size="12.4" fill="#1a1a1a" stroke="#fff" stroke-width="0.18">2</text>
<text transform="translate(488.15,311.4) skewX(-7) scale(0.8,1)" font-size="12.4" fill="#1a1a1a" stroke="#fff" stroke-width="0.18">4</text>
<path d="M477.5 314.5 L492.3 314.5" stroke="#2a2a2a" stroke-width="0.9" fill="none"/>
<path d="M477.5 314.5 L461.0 334.5" stroke="#3c3c3c" stroke-width="0.6" fill="none"/>
<path d="M477.5 314.5 L451.0 359.2" stroke="#3c3c3c" stroke-width="0.6" fill="none"/>
<path d="M50.7 159.1 L99.5 130.9" stroke="#1e1e1e" stroke-width="1.3" fill="none"/>
<g transform="translate(103.5,128.6) rotate(-30)"><rect x="-5.5" y="-3.8" width="11" height="7.6" rx="2.2" fill="#2a2a2a"/><ellipse cx="-2.5" cy="-1.5" rx="1.4" ry="1" fill="#888"/></g>
<use href="#brk"/>
<g transform="translate(119.2,138.3) rotate(30)"><ellipse rx="4.6" ry="5.7" fill="#222"/><ellipse cx="1.3" rx="3.1" ry="4.2" fill="#5a5a5a"/><ellipse cx="1.5" rx="1.6" ry="2.1" fill="#262626"/><ellipse cx="1.7" rx="0.6" ry="0.8" fill="#aaa"/></g>
<g transform="translate(93.2,155.9) rotate(29.9)"><rect x="0" y="-2.60" width="23.1" height="5.20" rx="2.60" fill="url(#pin)" stroke="#2a2a2a" stroke-width="0.6"/><ellipse cx="21.3" rx="1.56" ry="2.34" fill="#333"/></g>
<g transform="translate(84.9,175.4) rotate(29.6)"><rect x="0" y="-2.60" width="24.5" height="5.20" rx="2.60" fill="url(#pin)" stroke="#2a2a2a" stroke-width="0.6"/><ellipse cx="22.7" rx="1.56" ry="2.34" fill="#333"/></g>
<g transform="translate(89.3,153.6) rotate(30)"><ellipse rx="3.74" ry="5.20" fill="#2d2d2d" stroke="#1a1a1a" stroke-width="0.5"/><ellipse cx="0.52" rx="1.37" ry="1.90" fill="#aaa"/></g>
<g transform="translate(78.0,170.4) rotate(30)"><ellipse rx="3.74" ry="5.20" fill="#2d2d2d" stroke="#1a1a1a" stroke-width="0.5"/><ellipse cx="0.52" rx="1.37" ry="1.90" fill="#aaa"/></g>
<g transform="translate(80.8,149.6)"><circle r="3.60" fill="#2a2a2a"/><ellipse cx="-0.54" cy="-0.36" rx="1.62" ry="1.44" fill="#7a7a7a"/></g>
<g transform="translate(68.6,165.7)"><circle r="3.60" fill="#2a2a2a"/><ellipse cx="-0.54" cy="-0.36" rx="1.62" ry="1.44" fill="#7a7a7a"/></g>
<g transform="translate(62.5,209.8) rotate(-153.7)"><rect x="0" y="-1.95" width="8.6" height="3.90" rx="1.95" fill="url(#bolt)" stroke="#222" stroke-width="0.6"/><rect x="8.1" y="-2.90" width="3.6" height="5.80" rx="1" fill="#2e2e2e" stroke="#1a1a1a" stroke-width="0.5"/><path d="M8.9 -1.70H10.9" stroke="#777" stroke-width="0.7"/></g>
<g transform="translate(45.5,220.2) rotate(-149.0)"><rect x="0" y="-1.95" width="8.6" height="3.90" rx="1.95" fill="url(#bolt)" stroke="#222" stroke-width="0.6"/><rect x="8.1" y="-2.90" width="3.6" height="5.80" rx="1" fill="#2e2e2e" stroke="#1a1a1a" stroke-width="0.5"/><path d="M8.9 -1.70H10.9" stroke="#777" stroke-width="0.7"/></g>
<g transform="translate(68.4,213.1) rotate(30)"><ellipse rx="2.81" ry="3.90" fill="#2d2d2d" stroke="#1a1a1a" stroke-width="0.5"/><ellipse cx="0.39" rx="1.01" ry="1.40" fill="#aaa"/></g>
<g transform="translate(55.5,226.1) rotate(30)"><ellipse rx="2.81" ry="3.90" fill="#2d2d2d" stroke="#1a1a1a" stroke-width="0.5"/><ellipse cx="0.39" rx="1.01" ry="1.40" fill="#aaa"/></g>
<g transform="translate(49.0,222.2) rotate(30)"><ellipse rx="1.87" ry="2.60" fill="#2d2d2d" stroke="#1a1a1a" stroke-width="0.5"/><ellipse cx="0.26" rx="0.65" ry="0.90" fill="#aaa"/></g>
<g transform="translate(160.4,166.8) rotate(30)"><ellipse rx="2.81" ry="3.90" fill="#2d2d2d" stroke="#1a1a1a" stroke-width="0.5"/><ellipse cx="0.39" rx="1.01" ry="1.40" fill="#aaa"/></g>
<g transform="translate(167.5,171.9) rotate(30)"><ellipse rx="1.87" ry="2.60" fill="#2d2d2d" stroke="#1a1a1a" stroke-width="0.5"/><ellipse cx="0.26" rx="0.65" ry="0.90" fill="#aaa"/></g>
<g transform="translate(174.6,169.7) rotate(30)"><ellipse rx="3.74" ry="5.20" fill="#2d2d2d" stroke="#1a1a1a" stroke-width="0.5"/><ellipse cx="0.52" rx="1.37" ry="1.90" fill="#aaa"/></g>
<g transform="translate(184.1,175.9) rotate(30)"><ellipse rx="1.87" ry="2.60" fill="#2d2d2d" stroke="#1a1a1a" stroke-width="0.5"/><ellipse cx="0.26" rx="0.65" ry="0.90" fill="#aaa"/></g>
<g transform="translate(188.8,177.8) rotate(27.1)"><rect x="0" y="-1.80" width="10.0" height="3.60" rx="1.80" fill="url(#bolt)" stroke="#222" stroke-width="0.6"/><rect x="9.5" y="-2.80" width="3.6" height="5.60" rx="1" fill="#2e2e2e" stroke="#1a1a1a" stroke-width="0.5"/><path d="M10.3 -1.60H12.3" stroke="#777" stroke-width="0.7"/></g>
<g transform="translate(185.0,181.5) rotate(27.3)"><rect x="0" y="-1.80" width="10.2" height="3.60" rx="1.80" fill="url(#bolt)" stroke="#222" stroke-width="0.6"/><rect x="9.7" y="-2.80" width="3.6" height="5.60" rx="1" fill="#2e2e2e" stroke="#1a1a1a" stroke-width="0.5"/><path d="M10.5 -1.60H12.5" stroke="#777" stroke-width="0.7"/></g>
<g transform="translate(168.5,199.3) rotate(28.0)"><rect x="0" y="-1.85" width="31.6" height="3.70" rx="1.85" fill="url(#pin)" stroke="#222" stroke-width="0.6"/><rect x="31.1" y="-2.60" width="3.4" height="5.20" rx="1" fill="#2e2e2e" stroke="#1a1a1a" stroke-width="0.5"/><path d="M31.9 -1.40H33.7" stroke="#777" stroke-width="0.7"/></g>
<g transform="translate(162.8,220.0) rotate(29.9)"><rect x="0" y="-1.85" width="30.2" height="3.70" rx="1.85" fill="url(#pin)" stroke="#222" stroke-width="0.6"/><rect x="29.7" y="-2.60" width="3.4" height="5.20" rx="1" fill="#2e2e2e" stroke="#1a1a1a" stroke-width="0.5"/><path d="M30.5 -1.40H32.3" stroke="#777" stroke-width="0.7"/></g>
<g transform="translate(164.1,196.6) rotate(30)"><ellipse rx="2.81" ry="3.90" fill="#2d2d2d" stroke="#1a1a1a" stroke-width="0.5"/><ellipse cx="0.39" rx="1.01" ry="1.40" fill="#aaa"/></g>
<g transform="translate(157.6,215.5) rotate(30)"><ellipse rx="2.81" ry="3.90" fill="#2d2d2d" stroke="#1a1a1a" stroke-width="0.5"/><ellipse cx="0.39" rx="1.01" ry="1.40" fill="#aaa"/></g>
<g transform="translate(120.8,243.5) rotate(30)"><ellipse rx="2.81" ry="3.90" fill="#2d2d2d" stroke="#1a1a1a" stroke-width="0.5"/><ellipse cx="0.39" rx="1.01" ry="1.40" fill="#aaa"/></g>
<g transform="translate(130.8,249.4)"><circle r="3.60" fill="#2a2a2a"/><ellipse cx="-0.54" cy="-0.36" rx="1.62" ry="1.44" fill="#7a7a7a"/></g>
<path d="M124 275 Q119 277 119.3 284 Q120 291 127 294.3 L138.5 298.5 L140 301.5 L147 301 L150.5 297 L150.5 287 L144 284.5 L140 278 L129 272.5 Z" fill="#b4b4b4" stroke="#2a2a2a" stroke-width="0.8"/><path d="M143.5 285.5 L150.5 287 L150.5 297 L147 301 L143.5 300 Z" fill="#555"/><g fill="#333"><circle cx="126.5" cy="283.5" r="1.6" fill="#eee" stroke="#333" stroke-width="0.7"/><circle cx="132.1" cy="283.3" r="0.9"/><circle cx="131.6" cy="289.8" r="0.9"/><circle cx="126.8" cy="290.4" r="0.9"/><circle cx="122.1" cy="279.2" r="0.8"/><circle cx="146.5" cy="290" r="0.9" fill="#bbb"/><circle cx="146.5" cy="294" r="0.9" fill="#bbb"/><circle cx="146.5" cy="298" r="0.9" fill="#bbb"/></g>
<path d="M124.5 276 L126 281 L127 285" stroke="#222" stroke-width="0.8" fill="none"/>
<path d="M132.5 298.2 L141.0 289.0" stroke="#444" stroke-width="0.6" fill="none"/>
<path d="M97 260 L108.5 265.5 L109 267.5 L106.5 267.5 L97.5 263 Z" fill="#2e2e2e" stroke="#222" stroke-width="0.5"/><path d="M99 261.5 L107 265.3" stroke="#aaa" stroke-width="1"/>
<path d="M89 236.5 L104.5 227.6 Q108.6 226.3 109.6 230.5 L109.9 238 Q109.6 241.5 106.5 243 L101 246 Z" fill="#3a3a3a" stroke="#1e1e1e" stroke-width="0.9"/><path d="M92 235 L104.5 228.3" stroke="#777" stroke-width="0.6"/><circle cx="106.3" cy="235.4" r="1.3" fill="#1a1a1a"/><circle cx="106.1" cy="235.2" r="0.5" fill="#aaa"/>
<g transform="translate(90.40,236.27) rotate(29.96)"><defs><linearGradient id="bg" x1="0" y1="0" x2="0" y2="1"><stop offset="0" stop-color="#222"/><stop offset="0.05" stop-color="#707070"/><stop offset="0.2" stop-color="#a0a0a0"/><stop offset="0.45" stop-color="#b8b8b8"/><stop offset="0.75" stop-color="#a6a6a6"/><stop offset="0.92" stop-color="#7a7a7a"/><stop offset="1" stop-color="#2a2a2a"/></linearGradient></defs><rect x="0" y="0" width="226.9" height="16.37" fill="url(#bg)"/><path d="M0 0H226.9M0 16.37H226.9" stroke="#1e1e1e" stroke-width="0.9"/><ellipse cx="0" cy="8.19" rx="3.8" ry="8.19" fill="#a8a8a8"/><path d="M0.3 0 A3.8 8.19 0 0 0 0.3 16.37" stroke="#1a1a1a" stroke-width="1.7" fill="none"/></g>
<path d="M184.5 287.3 L178.5 292.0" stroke="#333" stroke-width="0.7" fill="none"/>
<g transform="translate(211.3,327.4)"><circle r="2.90" fill="#2a2a2a"/><ellipse cx="-0.43" cy="-0.29" rx="1.30" ry="1.16" fill="#7a7a7a"/></g>
<g transform="translate(221.8,333.4)"><circle r="2.90" fill="#2a2a2a"/><ellipse cx="-0.43" cy="-0.29" rx="1.30" ry="1.16" fill="#7a7a7a"/></g>
<path d="M102.8 288.5 L103.2 330.5" stroke="#1a1a1a" stroke-width="1.2" fill="none"/><circle cx="103.2" cy="331" r="1.4" fill="#1a1a1a"/><ellipse cx="103.4" cy="285.8" rx="2.7" ry="2.9" fill="none" stroke="#1a1a1a" stroke-width="1.2"/><path d="M105.8 285 L110 282.5 L112 283 L115 280.5 L117 279.5" stroke="#1a1a1a" stroke-width="1.4" fill="none"/>
<path d="M171.2 300.5 L178.3 303.5 L178.3 308 L173 311.5 L171.2 311 Z" fill="#333" stroke="#1e1e1e" stroke-width="0.6"/><path d="M178.3 306.8 L185.4 308 L200.7 317.4 L201.9 322.7 L190.1 331.6 L185.4 336.9 L180.1 338 L177.7 333.9 L178.3 322 Z" fill="#353535" stroke="#1e1e1e" stroke-width="0.7"/><path d="M165.3 312.7 L173 309.2 L184.2 313.9 L185.4 316.8 L177.7 321.5 L165.3 315.6 Z" fill="#c8c8c8" stroke="#333" stroke-width="0.5"/><g fill="#888"><circle cx="183" cy="327.4" r="1.6"/><circle cx="185.4" cy="333.9" r="1.4"/><circle cx="198.3" cy="319.2" r="0.9"/></g><path d="M175.4 320.4 L179 320 L179 338.5 L176.5 340.4 Z" fill="#505050"/><path d="M158.8 314.5 L175.4 320.4 L176.5 340.4 L158.8 333.3 Z" fill="#3a3a3a" stroke="#1e1e1e" stroke-width="0.7"/><path d="M161.2 318 L173.6 322.7 L173.6 338 L161.2 332.1 Z" fill="#d2d2d2"/><path d="M161.2 318 L161.2 332.1 L166.5 329.5 L166.5 322 Z" fill="#8a8a8a"/><path d="M161.2 332.1 L173.6 338 L166.5 329.5 Z" fill="#a8a8a8"/>
<rect x="169.9" y="342.5" width="3.2" height="6" rx="1" fill="#aaa" stroke="#2a2a2a" stroke-width="0.6"/><rect x="168.8" y="348" width="5.4" height="4" rx="1" fill="#3a3a3a"/>
<path d="M218.5 346.8 L234.8 355.2 L246.3 366" stroke="#2a2a2a" stroke-width="5.2" fill="none" stroke-linecap="round" stroke-linejoin="round"/><path d="M218.5 346.8 L234.8 355.2 L246.3 366" stroke="#cfcfcf" stroke-width="3.6" fill="none" stroke-linecap="round" stroke-linejoin="round"/><path d="M219 346 L234.5 354" stroke="#eee" stroke-width="1" fill="none"/><ellipse cx="246.3" cy="366" rx="1.6" ry="2" transform="rotate(-45 246.3 366)" fill="#333"/><path d="M235 352.5 L233.5 357.5" stroke="#555" stroke-width="0.7"/>
<path d="M260 376.8 L272.8 379 Q275.8 380 275.8 383 L275.3 394.5 Q274.5 396.2 272 395.6 L260.6 389.3 Q259.6 388.5 259.7 387 Z" fill="#2e2e2e"/><path d="M261.2 379 L271.5 381 L270.8 394.3 L261.1 388.6 Z" fill="#dcdcdc" stroke="#555" stroke-width="0.5"/><path d="M263 381.5 L269.5 383 L269 391.5 L263 387.8 Z" fill="#c8c8c8"/>
<path d="M118.8 344.8 L146 330 L152.6 335.7 L123.7 351.4 Z" fill="#c4c4c4" stroke="#2a2a2a" stroke-width="0.7"/><path d="M123.7 351.4 L152.6 335.7 L154.3 346.5 L124.6 363.8 Z" fill="#4a4a4a" stroke="#2a2a2a" stroke-width="0.7"/><circle cx="141.5" cy="348" r="1.2" fill="#999"/><path d="M111.4 342.3 L118 344 L122.1 349.8 L116.3 371.2 L101.5 365.4 Z" fill="#cacaca" stroke="#2a2a2a" stroke-width="0.7"/><path d="M122.1 349.8 L124.6 363.8 L114.7 373.7 L116.3 371.2 Z" fill="#555"/><path d="M91.6 367.1 L101.5 365.4 L116.3 371.2 L114.7 374.5 L100.6 381.9 L85 377.8 Q83.5 369 91.6 367.1 Z" fill="#c8c8c8" stroke="#2a2a2a" stroke-width="0.7"/><path d="M85 377.8 L100.6 381.9 L114.7 374.5 L114.7 377.5 L101 384.5 L86 380.5 Z" fill="#555" stroke="#2a2a2a" stroke-width="0.5"/><ellipse cx="94" cy="374.3" rx="2.8" ry="2.1" fill="#fff" stroke="#333" stroke-width="0.7"/>
<rect x="90.7" y="359.5" width="6.4" height="8" rx="1.5" fill="#bbb" stroke="#333" stroke-width="0.6"/><path d="M87.4 353.5 L99.8 353.5 L99.8 360 L87.4 360 Z" fill="#3a3a3a"/><rect x="88.5" y="354.3" width="10" height="2.2" fill="#888"/><defs><radialGradient id="ball" cx="0.42" cy="0.35" r="0.65"><stop offset="0" stop-color="#f0f0f0"/><stop offset="0.6" stop-color="#aaa"/><stop offset="1" stop-color="#444"/></radialGradient></defs><ellipse cx="94" cy="346.2" rx="7.5" ry="7.1" fill="url(#ball)" stroke="#2a2a2a" stroke-width="0.8"/>
<ellipse cx="93.2" cy="390.3" rx="5.8" ry="3.5" fill="#333"/><ellipse cx="93.2" cy="389.8" rx="3" ry="1.5" fill="#ddd"/><path d="M88 397 L91 395 L97 395 L99.8 397.5 L99.8 402 L96.5 404.3 L90.5 404.3 L88 402 Z" fill="#2e2e2e"/><ellipse cx="93.8" cy="397.6" rx="3.6" ry="1.9" fill="#8a8a8a"/><ellipse cx="93.8" cy="397.6" rx="1.6" ry="0.9" fill="#333"/>
<path d="M284 347 L299 339 Q303 338.5 303.2 342 L303.2 350 Q303 353 300.5 354.5 L285 364 Q279 366.5 278.3 358 Q278 350 284 347 Z" fill="#505050" stroke="#1e1e1e" stroke-width="0.9"/><path d="M283.5 347.8 L299 339.8" stroke="#888" stroke-width="0.6"/><circle cx="283" cy="357.1" r="1.6" fill="#1a1a1a"/><circle cx="283.2" cy="356.9" r="0.6" fill="#aaa"/><circle cx="300.6" cy="347" r="1.4" fill="#1a1a1a"/><circle cx="300.8" cy="346.8" r="0.5" fill="#aaa"/>
<use href="#brk" transform="translate(226,130.7)"/>
<g transform="translate(334.8,267.7) rotate(30)"><ellipse rx="2.81" ry="3.90" fill="#2d2d2d" stroke="#1a1a1a" stroke-width="0.5"/><ellipse cx="0.39" rx="1.01" ry="1.40" fill="#aaa"/></g>
<g transform="translate(340.8,265.3) rotate(30)"><ellipse rx="1.87" ry="2.60" fill="#2d2d2d" stroke="#1a1a1a" stroke-width="0.5"/><ellipse cx="0.26" rx="0.65" ry="0.90" fill="#aaa"/></g>
<g transform="translate(349.3,270.4) rotate(30)"><ellipse rx="3.74" ry="5.20" fill="#2d2d2d" stroke="#1a1a1a" stroke-width="0.5"/><ellipse cx="0.52" rx="1.37" ry="1.90" fill="#aaa"/></g>
<g transform="translate(323.4,261.8) rotate(-150.4)"><rect x="0" y="-1.80" width="10.0" height="3.60" rx="1.80" fill="url(#bolt)" stroke="#222" stroke-width="0.6"/><rect x="9.5" y="-2.90" width="3.8" height="5.80" rx="1" fill="#2e2e2e" stroke="#1a1a1a" stroke-width="0.5"/><path d="M10.3 -1.70H12.5" stroke="#777" stroke-width="0.7"/></g>
<g transform="translate(331.2,260.0) rotate(-151.8)"><rect x="0" y="-1.80" width="9.4" height="3.60" rx="1.80" fill="url(#bolt)" stroke="#222" stroke-width="0.6"/><rect x="8.9" y="-2.90" width="3.8" height="5.80" rx="1" fill="#2e2e2e" stroke="#1a1a1a" stroke-width="0.5"/><path d="M9.7 -1.70H11.9" stroke="#777" stroke-width="0.7"/></g>
<g transform="translate(327.7,263.8) rotate(30)"><ellipse rx="1.87" ry="2.60" fill="#2d2d2d" stroke="#1a1a1a" stroke-width="0.5"/><ellipse cx="0.26" rx="0.65" ry="0.90" fill="#aaa"/></g>
<g transform="translate(273.6,330.3)"><circle r="3.60" fill="#2a2a2a"/><ellipse cx="-0.54" cy="-0.36" rx="1.62" ry="1.44" fill="#7a7a7a"/></g>
<g transform="translate(279.1,334.4) rotate(30)"><ellipse rx="2.81" ry="3.90" fill="#2d2d2d" stroke="#1a1a1a" stroke-width="0.5"/><ellipse cx="0.39" rx="1.01" ry="1.40" fill="#aaa"/></g>
<g transform="translate(316.2,308.0)"><circle r="3.60" fill="#2a2a2a"/><ellipse cx="-0.54" cy="-0.36" rx="1.62" ry="1.44" fill="#7a7a7a"/></g>
<g transform="translate(322.8,312.1) rotate(30)"><ellipse rx="2.81" ry="3.90" fill="#2d2d2d" stroke="#1a1a1a" stroke-width="0.5"/><ellipse cx="0.39" rx="1.01" ry="1.40" fill="#aaa"/></g>
<path d="M339.5 325.0 L387.0 298.5" stroke="#1e1e1e" stroke-width="1.3" fill="none"/>
<g transform="translate(390.4,296.3) rotate(-30)"><rect x="-5.5" y="-3.8" width="11" height="7.6" rx="2.2" fill="#2a2a2a"/><ellipse cx="-2.5" cy="-1.5" rx="1.4" ry="1" fill="#888"/></g>
<g transform="translate(381.6,289) rotate(30)"><ellipse rx="4.6" ry="5.7" fill="#222"/><ellipse cx="1.3" rx="3.1" ry="4.2" fill="#5a5a5a"/><ellipse cx="1.5" rx="1.6" ry="2.1" fill="#262626"/><ellipse cx="1.7" rx="0.6" ry="0.8" fill="#aaa"/></g>
<g transform="translate(383.6,322.3) rotate(-30.5)"><rect x="-4" y="-4" width="43.6" height="8" rx="4" fill="#2c2c2c" stroke="#1a1a1a" stroke-width="0.7"/><path d="M0 -3.6H35.6" stroke="#555" stroke-width="0.6"/><ellipse cx="0.8" cy="0" rx="1.6" ry="1.3" fill="#111"/><ellipse cx="35.2" cy="0" rx="1.6" ry="1.3" fill="#111"/></g>
<path d="M385.9 341.5 L401.8 333.9 L402.8 349 Q394 352.5 386.8 361 Z" fill="#8c8c8c"/><path d="M385.9 341.5 L401.8 333.9 L402.6 348.6 Z" fill="#b4b4b4"/><path d="M386.5 361.5 Q393 352.5 402.4 350 Q408 348 412 346.8 Q411.5 356 408.5 361 Q403 369.5 396 372.8 Q389.5 375.5 385.3 372.5 Z" fill="#2e2e2e" stroke="#1a1a1a" stroke-width="0.7"/><path d="M384 340.5 L386.3 341.3 L386.8 372.8 L384.4 371.5 Z" fill="#2a2a2a" stroke="#1a1a1a" stroke-width="0.5"/><path d="M384 340.5 L401.4 332.1 L401.9 333.9 L386.3 341.3 Z" fill="#3a3a3a"/><path d="M401.4 332.1 L439.2 311.3 Q442 311.5 442.5 314.5 L442.9 328.3 L403.3 349.1 Z" fill="#2e2e2e" stroke="#1a1a1a" stroke-width="0.7"/><path d="M402 333 L439 312.5" stroke="#666" stroke-width="0.6"/><g fill="#999"><circle cx="435.4" cy="318.9" r="1"/><circle cx="407" cy="334.9" r="1"/><circle cx="402" cy="356.6" r="1"/></g>
<g transform="translate(418.0,367.5) rotate(30)"><ellipse rx="2.81" ry="3.90" fill="#2d2d2d" stroke="#1a1a1a" stroke-width="0.5"/><ellipse cx="0.39" rx="1.01" ry="1.40" fill="#aaa"/></g>
<g transform="translate(452.7,329.5) rotate(30)"><ellipse rx="3.74" ry="5.20" fill="#2d2d2d" stroke="#1a1a1a" stroke-width="0.5"/><ellipse cx="0.52" rx="1.37" ry="1.90" fill="#aaa"/></g>
<g transform="translate(441.2,354.3) rotate(30)"><ellipse rx="3.74" ry="5.20" fill="#2d2d2d" stroke="#1a1a1a" stroke-width="0.5"/><ellipse cx="0.52" rx="1.37" ry="1.90" fill="#aaa"/></g>
<g transform="translate(461.0,334.5) rotate(30)"><ellipse rx="1.87" ry="2.60" fill="#2d2d2d" stroke="#1a1a1a" stroke-width="0.5"/><ellipse cx="0.26" rx="0.65" ry="0.90" fill="#aaa"/></g>
<g transform="translate(451.0,359.2) rotate(30)"><ellipse rx="1.87" ry="2.60" fill="#2d2d2d" stroke="#1a1a1a" stroke-width="0.5"/><ellipse cx="0.26" rx="0.65" ry="0.90" fill="#aaa"/></g>
<g transform="translate(467.0,337.5) rotate(27.5)"><rect x="0" y="-1.95" width="11.0" height="3.90" rx="1.95" fill="url(#bolt)" stroke="#222" stroke-width="0.6"/><rect x="10.5" y="-2.90" width="3.6" height="5.80" rx="1" fill="#2e2e2e" stroke="#1a1a1a" stroke-width="0.5"/><path d="M11.3 -1.70H13.3" stroke="#777" stroke-width="0.7"/></g>
<g transform="translate(457.5,364.0) rotate(28.4)"><rect x="0" y="-1.95" width="10.5" height="3.90" rx="1.95" fill="url(#bolt)" stroke="#222" stroke-width="0.6"/><rect x="10.0" y="-2.90" width="3.6" height="5.80" rx="1" fill="#2e2e2e" stroke="#1a1a1a" stroke-width="0.5"/><path d="M10.8 -1.70H12.8" stroke="#777" stroke-width="0.7"/></g>
<g transform="translate(425.0,370.0) rotate(33.1)"><rect x="0" y="-1.95" width="10.6" height="3.90" rx="1.95" fill="url(#bolt)" stroke="#222" stroke-width="0.6"/><rect x="10.1" y="-2.90" width="3.6" height="5.80" rx="1" fill="#2e2e2e" stroke="#1a1a1a" stroke-width="0.5"/><path d="M10.9 -1.70H12.9" stroke="#777" stroke-width="0.7"/></g>
<g transform="translate(328.2,363.3) rotate(30)"><ellipse rx="2.81" ry="3.90" fill="#2d2d2d" stroke="#1a1a1a" stroke-width="0.5"/><ellipse cx="0.39" rx="1.01" ry="1.40" fill="#aaa"/></g>
<g transform="translate(313.0,375.0) rotate(30)"><ellipse rx="2.81" ry="3.90" fill="#2d2d2d" stroke="#1a1a1a" stroke-width="0.5"/><ellipse cx="0.39" rx="1.01" ry="1.40" fill="#aaa"/></g>
<g transform="translate(320.0,378.5) rotate(30)"><ellipse rx="1.87" ry="2.60" fill="#2d2d2d" stroke="#1a1a1a" stroke-width="0.5"/><ellipse cx="0.26" rx="0.65" ry="0.90" fill="#aaa"/></g>
<g transform="translate(332.8,366.0) rotate(30.6)"><rect x="0" y="-1.95" width="9.1" height="3.90" rx="1.95" fill="url(#bolt)" stroke="#222" stroke-width="0.6"/><rect x="8.6" y="-2.90" width="3.6" height="5.80" rx="1" fill="#2e2e2e" stroke="#1a1a1a" stroke-width="0.5"/><path d="M9.4 -1.70H11.4" stroke="#777" stroke-width="0.7"/></g>
<g transform="translate(323.5,380.0) rotate(34.4)"><rect x="0" y="-1.95" width="11.1" height="3.90" rx="1.95" fill="url(#bolt)" stroke="#222" stroke-width="0.6"/><rect x="10.6" y="-2.90" width="3.6" height="5.80" rx="1" fill="#2e2e2e" stroke="#1a1a1a" stroke-width="0.5"/><path d="M11.4 -1.70H13.4" stroke="#777" stroke-width="0.7"/></g>
</svg></body></html>
